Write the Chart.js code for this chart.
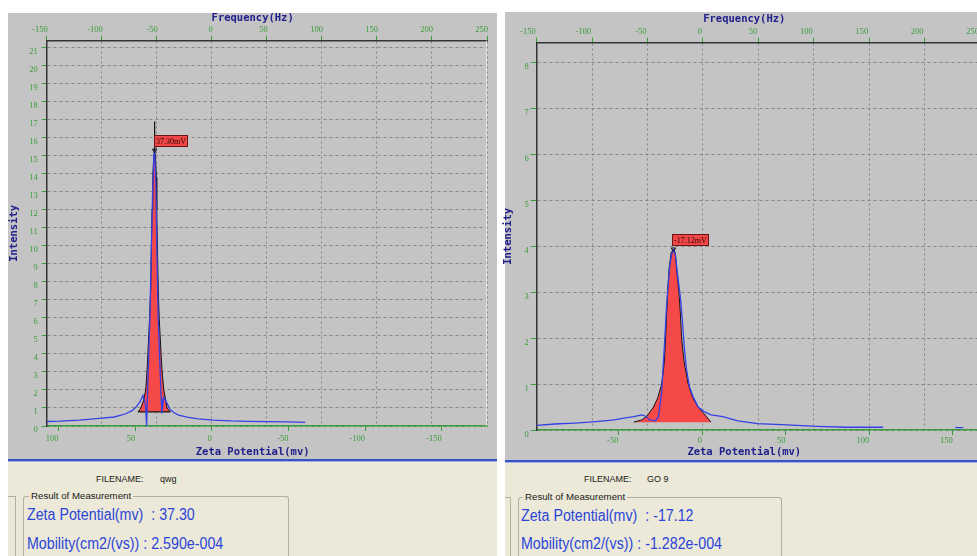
<!DOCTYPE html>
<html lang="en">
<head>
<meta charset="utf-8">
<title>Zeta potential distributions: qwg and GO 9</title>
<script src="https://cdn.jsdelivr.net/npm/chart.js@4.4.1/dist/chart.umd.min.js"></script>
<style>
  html, body { margin: 0; padding: 0; background: #ffffff; }
  body { position: relative; width: 977px; height: 556px; overflow: hidden;
         font-family: "Liberation Sans", Arial, sans-serif; }
  .abs { position: absolute; }
  .plot { background: #c4c4c4; }
  .rule { height: 3px; background: linear-gradient(#3552c6 0, #3552c6 2px, #a3b3e8 2px, #a3b3e8 3px); }
  .info { background: #ece9d8; }
  .file { font-size: 9px; line-height: 1; color: #1a1a1a; white-space: pre; }
  .frame { border: 1px solid #b3b0a2; border-bottom: none; border-radius: 3px 3px 0 0; box-sizing: border-box; }
  .frag { border-top: 1px solid #b3b0a2; border-right: 1px solid #b3b0a2; box-sizing: border-box; }
  .caption { font-size: 9.7px; line-height: 1; color: #1a1a1a; background: #ece9d8; padding: 0 2px; white-space: pre; }
  .result { font-size: 16px; line-height: 1; color: #2b45d8; white-space: pre;
            transform: scaleX(0.89); transform-origin: 0 50%; }
  canvas { position: absolute; }
</style>
</head>
<body>

<!-- qwg panel -->
<div class="abs plot" style="left:8px;top:13px;width:489px;height:446px"></div>
<div class="abs rule" style="left:8px;top:459px;width:489px"></div>
<div class="abs info" style="left:8px;top:462px;width:489px;height:94px"></div>
<canvas id="qwgChart" width="487" height="449" style="left:5px;top:10px"></canvas>
<div class="abs file" style="left:96px;top:474.6px">FILENAME:</div>
<div class="abs file" style="left:160px;top:474.6px">qwg</div>
<div class="abs frag" style="left:8px;top:496px;width:8px;height:60px"></div>
<div class="abs frame" style="left:23px;top:496px;width:266px;height:70px"></div>
<div class="abs caption" style="left:29px;top:491px">Result of Measurement</div>
<div class="abs result" id="qwgZetaText" style="left:27px;top:506.7px"></div>
<div class="abs result" id="qwgMobilityText" style="left:27px;top:536px"></div>

<!-- GO 9 panel -->
<div class="abs plot" style="left:505px;top:12px;width:472px;height:448px"></div>
<div class="abs rule" style="left:505px;top:460px;width:472px"></div>
<div class="abs info" style="left:505px;top:463px;width:472px;height:93px"></div>
<canvas id="go9Chart" width="485" height="449" style="left:500px;top:10px"></canvas>
<div class="abs file" style="left:584px;top:474.6px">FILENAME:</div>
<div class="abs file" style="left:647px;top:474.6px">GO 9</div>
<div class="abs frag" style="left:505px;top:497px;width:6px;height:60px"></div>
<div class="abs frame" style="left:518px;top:497px;width:264px;height:70px"></div>
<div class="abs caption" style="left:523px;top:491.6px">Result of Measurement</div>
<div class="abs result" id="go9ZetaText" style="left:521px;top:507.7px"></div>
<div class="abs result" id="go9MobilityText" style="left:521px;top:536px"></div>

<script>
// ---------- shared axis ticks ----------
const frequencyTicks = [-150, -100, -50, 0, 50, 100, 150, 200, 250];

// ---------- sample "qwg" ----------
// measured spectrum: zeta potential (mV) vs intensity
const qwgZeta = [107.5, 99.1, 86.2, 73.3, 63.6, 56.1, 52.0, 49.4, 46.8, 44.9, 43.3, 42.5, 41.7, 40.4, 39.4,
                 38.6, 37.8, 37.3, 36.5, 35.9, 35.0, 33.9, 33.0, 32.5, 31.4, 29.4, 27.5, 24.9, 21.7, 15.2,
                 8.8, -0.9, -12.5, -23.5, -36.4, -49.3, -60.9];
const qwgIntensity = [0.25, 0.27, 0.33, 0.42, 0.50, 0.68, 0.85, 1.05, 1.35, 1.70, 1.20, 0.00, 2.50, 6.00, 10.0,
                      13.0, 15.0, 15.3, 13.5, 10.0, 6.00, 3.50, 1.50, 0.70, 1.60, 1.30, 0.95, 0.75, 0.60, 0.48,
                      0.40, 0.33, 0.28, 0.26, 0.24, 0.23, 0.20];
// fitted peak (filled)
const qwgFitZeta = [48.1, 46.3, 44.6, 43.1, 42.3, 41.7, 40.6, 39.9, 39.4, 39.0, 38.5, 37.9, 37.30,
                    36.7, 36.2, 35.9, 35.5, 34.9, 34.3, 33.1, 32.4, 31.3, 30.0, 29.2, 27.0];
const qwgFitIntensity = [0.78, 1.0, 1.4, 2.0, 3.0, 4.0, 6.0, 7.5, 10.0, 12.0, 13.8, 14.9, 15.3,
                         14.9, 13.8, 12.0, 10.0, 7.5, 6.0, 4.0, 3.0, 2.0, 1.4, 1.0, 0.78];
const qwgFitBase = 0.78;
const qwgPeakZeta = 37.30;
const qwgPeakIntensity = 15.3;
const qwgCursorTop = 16.9;
const qwgMobility = '2.590e-004';
const qwgIntensityTicks = [0, 1, 2, 3, 4, 5, 6, 7, 8, 9, 10, 11, 12, 13, 14, 15, 16, 17, 18, 19, 20, 21];
const qwgZetaTicks = [100, 50, 0, -50, -100, -150];

// ---------- sample "GO 9" ----------
const go9Zeta = [-98.8, -88.1, -76.3, -67.4, -58.5, -52.6, -46.7, -40.8, -36.0, -33.7, -31.3, -27.8, -26.0,
                 -24.2, -22.4, -21.2, -19.5, -18.3, -17.12, -15.9, -14.7, -13.0, -11.8, -10.6, -9.4, -7.6,
                 -5.3, -2.3, 1.2, 5.4, 12.5, 21.4, 33.2, 50.9, 68.7, 86.4, 108.3, 130.0, 151.6, 156.3];
const go9Intensity = [0.10, 0.13, 0.15, 0.17, 0.20, 0.22, 0.26, 0.29, 0.33, 0.30, 0.22, 0.20, 0.30,
                      0.80, 1.90, 2.70, 3.50, 3.80, 3.93, 3.80, 3.40, 2.90, 2.40, 1.80, 1.35, 0.95,
                      0.72, 0.50, 0.40, 0.33, 0.29, 0.20, 0.14, 0.11, 0.08, 0.06, 0.06, null, 0.05, 0.05];
const go9FitZeta = [-40.8, -36.0, -33.0, -29.0, -26.5, -24.1, -22.5, -21.8, -21.2, -20.6, -19.7, -18.5, -17.12,
                    -16.0, -15.2, -13.8, -12.9, -12.2, -10.8, -8.3, -5.5, -2.4, 2.5, 5.3];
const go9FitIntensity = [0.17, 0.22, 0.30, 0.50, 0.70, 1.00, 1.50, 2.00, 2.50, 3.00, 3.50, 3.85, 3.93,
                         3.85, 3.50, 3.00, 2.50, 2.00, 1.50, 1.00, 0.70, 0.50, 0.30, 0.17];
const go9FitBase = 0.17;
const go9PeakZeta = -17.12;
const go9PeakIntensity = 3.93;
const go9Mobility = '-1.282e-004';
const go9IntensityTicks = [0, 1, 2, 3, 4, 5, 6, 7, 8];
const go9ZetaTicks = [-50, 0, 50, 100, 150];

// ---------- styling ----------
const GREEN = '#3a9c3a';
const NAVY = '#20208c';
const GRID = '#858585';
const tickFont = { family: '"Liberation Serif", "DejaVu Serif", serif', size: 8.5 };
const titleFont = { family: '"DejaVu Sans Mono", monospace', size: 10.5, weight: 'bold', lineHeight: 1 };

const toPoints = (xs, ys) => xs.map((x, i) => ({ x, y: ys[i] }));
const fixedTicks = values => scale => { scale.ticks = values.map(value => ({ value })); };

// red value tag above the peak cursor
const peakLabel = {
  id: 'peakLabel',
  afterDatasetsDraw(chart, args, opts) {
    const { ctx, scales } = chart;
    const px = scales.zeta.getPixelForValue(opts.zeta);
    const py = scales.y.getPixelForValue(opts.intensity);
    const text = opts.zeta.toFixed(2) + 'mV';
    ctx.save();
    ctx.font = '8px "Liberation Serif", serif';
    const w = Math.round(ctx.measureText(text).width) + 3;
    const h = 11;
    const x0 = Math.round(px) - 0.5;
    const y0 = Math.round(py - 4 - h) + 0.5;
    ctx.fillStyle = '#f04646';
    ctx.fillRect(x0, y0, w, h);
    ctx.strokeStyle = '#6b1414';
    ctx.lineWidth = 1;
    ctx.strokeRect(x0, y0, w, h);
    ctx.fillStyle = '#2a0505';
    ctx.textBaseline = 'middle';
    ctx.fillText(text, x0 + 1.5, y0 + h / 2 + 0.5);
    ctx.restore();
  }
};

// light right-hand edge of the plotting area
const plotEdge = {
  id: 'plotEdge',
  beforeDatasetsDraw(chart) {
    const { ctx, chartArea: a } = chart;
    const x = Math.round(a.right) - 0.5;
    ctx.save();
    ctx.strokeStyle = '#e2e2e2';
    ctx.lineWidth = 1;
    ctx.beginPath();
    ctx.moveTo(x, a.top);
    ctx.lineTo(x, a.bottom);
    ctx.stroke();
    ctx.restore();
  }
};

function drawPanel(o) {
  const axes = { xAxisID: 'zeta', yAxisID: 'y' };
  const datasets = [
    Object.assign({ data: toPoints(o.fitZeta, o.fitIntensity), borderColor: '#141414', borderWidth: 1,
      backgroundColor: '#f54848', fill: { value: o.fitBase }, pointRadius: 0, order: 4 }, axes),
    Object.assign({ data: toPoints(o.zeta, o.intensity), borderColor: '#3441e6', borderWidth: 1.3,
      fill: false, pointRadius: 0, order: 2 }, axes),
    Object.assign({ data: [{ x: o.peakZeta, y: o.peakIntensity }], showLine: false, pointRadius: 2.5,
      pointStyle: 'triangle', pointRotation: 180, pointBorderColor: '#111111',
      pointBackgroundColor: 'rgba(0,0,0,0)', pointBorderWidth: 1, order: 0 }, axes)
  ];
  if (o.baseLine) {
    datasets.push(Object.assign({ data: [{ x: o.fitZeta[0], y: o.fitBase },
                                         { x: o.fitZeta[o.fitZeta.length - 1], y: o.fitBase }],
      borderColor: '#141414', borderWidth: 1.2, pointRadius: 0, fill: false, order: 3 }, axes));
  }
  if (o.cursorTop) {
    datasets.push(Object.assign({ data: [{ x: o.peakZeta, y: o.peakIntensity }, { x: o.peakZeta, y: o.cursorTop }],
      borderColor: '#111111', borderWidth: 1.2, pointRadius: 0, fill: false, order: 1 }, axes));
  }

  return new Chart(document.getElementById(o.canvas), {
    type: 'line',
    data: { datasets },
    options: {
      responsive: false,
      animation: false,
      devicePixelRatio: 1,
      layout: { padding: { left: o.padLeft, right: 0, top: 0, bottom: 0 } },
      elements: { line: { tension: 0 } },
      plugins: {
        legend: { display: false },
        tooltip: { enabled: false },
        title: { display: true, text: 'Frequency(Hz)', color: NAVY, font: titleFont,
                 padding: { top: o.titleTop, bottom: 0 } },
        subtitle: { display: true, position: 'bottom', text: 'Zeta Potential(mv)', color: NAVY,
                    font: titleFont, padding: { top: 0, bottom: o.subBottom } },
        peakLabel: { zeta: o.peakZeta, intensity: o.peakIntensity }
      },
      scales: {
        freq: {
          type: 'linear', axis: 'x', position: 'top', min: -150, max: 250,
          afterBuildTicks: fixedTicks(frequencyTicks),
          afterFit: s => { s.height = o.freqHeight; },
          grid: { color: GRID, lineWidth: 1, tickColor: GREEN, tickLength: 5 },
          border: { color: '#333333', width: 1.5, dash: [2, 3] },
          ticks: { color: GREEN, font: tickFont, padding: 1, align: 'end', labelOffset: o.freqLabelOffset,
                   maxRotation: 0, autoSkip: false, callback: v => String(v) }
        },
        zeta: {
          type: 'linear', axis: 'x', position: 'bottom', min: o.zetaMin, max: o.zetaMax, reverse: o.reverse,
          afterBuildTicks: fixedTicks(o.zetaTicks),
          afterFit: s => { s.height = o.zetaHeight; },
          grid: { drawOnChartArea: false, color: GREEN, tickColor: GREEN, tickLength: 5 },
          border: { color: GREEN, width: 1.5 },
          ticks: { color: GREEN, font: tickFont, padding: o.zetaPad, align: 'end', labelOffset: 0,
                   maxRotation: 0, autoSkip: false, callback: v => String(v) }
        },
        y: {
          type: 'linear', position: 'left', min: 0, max: o.yMax,
          afterBuildTicks: fixedTicks(o.yTicks),
          afterFit: s => { s.width = o.yWidth; },
          grid: { color: GRID, lineWidth: 1, tickColor: GREEN, tickLength: o.yTickLen },
          border: { color: '#333333', width: 1.5, dash: [3, 3] },
          ticks: { color: GREEN, font: tickFont, padding: o.yPad, labelOffset: o.yLabelOffset,
                   autoSkip: false, callback: v => String(v) },
          title: { display: true, text: 'Intensity', color: NAVY,
                   font: Object.assign({}, titleFont, { lineHeight: o.yTitleLH }), padding: 0 }
        }
      }
    },
    plugins: [plotEdge, peakLabel]
  });
}

drawPanel({
  canvas: 'qwgChart',
  zeta: qwgZeta, intensity: qwgIntensity,
  fitZeta: qwgFitZeta, fitIntensity: qwgFitIntensity, fitBase: qwgFitBase, baseLine: true,
  peakZeta: qwgPeakZeta, peakIntensity: qwgPeakIntensity, cursorTop: qwgCursorTop,
  zetaMin: -179.5, zetaMax: 107.7, reverse: true, zetaTicks: qwgZetaTicks,
  yMax: 21.39, yTicks: qwgIntensityTicks,
  padLeft: 8.3, titleTop: 3, subBottom: 1.5, freqHeight: 17.2, zetaHeight: 21, yWidth: 33.4,
  freqLabelOffset: 1, zetaPad: 3, yTickLen: 5, yPad: 4, yLabelOffset: 4, yTitleLH: 0.23
});

drawPanel({
  canvas: 'go9Chart',
  zeta: go9Zeta, intensity: go9Intensity,
  fitZeta: go9FitZeta, fitIntensity: go9FitIntensity, fitBase: go9FitBase, baseLine: false,
  peakZeta: go9PeakZeta, peakIntensity: go9PeakIntensity, cursorTop: null,
  zetaMin: -98.9, zetaMax: 166.3, reverse: false, zetaTicks: go9ZetaTicks,
  yMax: 8.42, yTicks: go9IntensityTicks,
  padLeft: 3.6, titleTop: 3.75, subBottom: 1.75, freqHeight: 18.45, zetaHeight: 16.75, yWidth: 33.1,
  freqLabelOffset: -1, zetaPad: 1, yTickLen: 6, yPad: 2, yLabelOffset: 4.5, yTitleLH: 0.9
});

// measurement summary texts
document.getElementById('qwgZetaText').textContent = 'Zeta Potential(mv)  : ' + qwgPeakZeta.toFixed(2);
document.getElementById('qwgMobilityText').textContent = 'Mobility(cm2/(vs)) : ' + qwgMobility;
document.getElementById('go9ZetaText').textContent = 'Zeta Potential(mv)  : ' + go9PeakZeta.toFixed(2);
document.getElementById('go9MobilityText').textContent = 'Mobility(cm2/(vs)) : ' + go9Mobility;
</script>
</body>
</html>
